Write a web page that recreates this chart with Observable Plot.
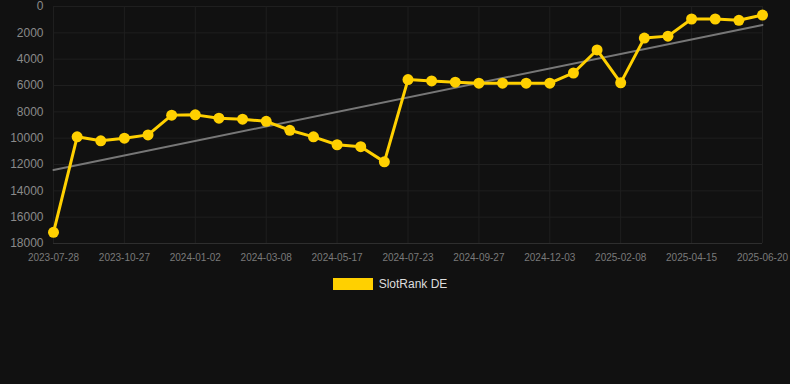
<!DOCTYPE html>
<html>
<head>
<meta charset="utf-8">
<script src="https://cdn.jsdelivr.net/npm/d3@7"></script>
<script src="https://cdn.jsdelivr.net/npm/@observablehq/plot@0.6"></script>
<style>
  html, body { margin: 0; padding: 0; background: #111111; }
  body { width: 790px; height: 384px; overflow: hidden; font-family: "Liberation Sans", Arial, sans-serif; }
  #legend { display: flex; justify-content: center; align-items: center; gap: 6px; margin-top: 7px; margin-left: -10px; color: #dddddd; font-size: 12px; }
  #legend .sw { width: 40px; height: 12px; background: #FFD000; }
</style>
</head>
<body>
<div id="chart"></div>
<div id="legend"><span class="sw"></span><span>SlotRank DE</span></div>
<script>
const dates = [
  "2023-07-28","2023-08-28","2023-09-27","2023-10-27","2023-11-19","2023-12-11",
  "2024-01-02","2024-01-24","2024-02-15","2024-03-08","2024-03-31","2024-04-24",
  "2024-05-17","2024-06-08","2024-07-01","2024-07-23","2024-08-14","2024-09-05",
  "2024-09-27","2024-10-19","2024-11-11","2024-12-03","2024-12-25","2025-01-17",
  "2025-02-08","2025-03-02","2025-03-24","2025-04-15","2025-05-07","2025-05-29",
  "2025-06-20"
];
const ranks = [
  17150, 9900, 10200, 10000, 9750, 8250,
  8230, 8480, 8560, 8720, 9400, 9900,
  10500, 10650, 11800, 5550, 5650, 5750,
  5820, 5820, 5820, 5820, 5050, 3300,
  5800, 2400, 2250, 950, 950, 1050,
  650
];
const tickLabels = ["2023-07-28","2023-10-27","2024-01-02","2024-03-08","2024-05-17","2024-07-23","2024-09-27","2024-12-03","2025-02-08","2025-04-15","2025-06-20"];
const yTicks = [0, 2000, 4000, 6000, 8000, 10000, 12000, 14000, 16000, 18000];

const data = dates.map((d, i) => ({i, date: d, rank: ranks[i]}));
const xTicks = tickLabels.map(t => dates.indexOf(t));

// least-squares trend over index
const n = ranks.length;
const mx = d3.mean(d3.range(n));
const my = d3.mean(ranks);
const slope = d3.sum(d3.range(n), i => (i - mx) * (ranks[i] - my)) / d3.sum(d3.range(n), i => (i - mx) ** 2);
const icpt = my - slope * mx;
const trend = [
  {i: 0, rank: icpt},
  {i: n - 1, rank: icpt + slope * (n - 1)}
];

const chart = Plot.plot({
  width: 790,
  height: 270,
  marginTop: 6,
  marginBottom: 27,
  marginLeft: 53,
  marginRight: 28,
  style: {background: "#111111", fontFamily: "Liberation Sans, Arial, sans-serif"},
  x: {type: "linear", domain: [0, n - 1]},
  y: {domain: [0, 18000], reverse: true},
  marks: [
    Plot.gridY(yTicks.slice(0, -1), {stroke: "#1f1f1f", strokeOpacity: 1}),
    Plot.gridY(yTicks.slice(-1), {stroke: "#2e2e2e", strokeOpacity: 1}),
    Plot.gridX(xTicks, {stroke: "#1f1f1f", strokeOpacity: 1}),
    Plot.axisY(yTicks, {tickSize: 0, tickPadding: 10, fontSize: 12, fill: "#8a8a8a", label: null, tickFormat: d => String(d)}),
    Plot.axisX(xTicks, {tickSize: 0, tickPadding: 10, fontSize: 10, fill: "#7a7a7a", label: null, tickFormat: i => dates[i]}),
    Plot.line(trend, {x: "i", y: "rank", stroke: "#777777", strokeWidth: 2}),
    Plot.line(data, {x: "i", y: "rank", stroke: "#FFD000", strokeWidth: 3}),
    Plot.dot(data, {x: "i", y: "rank", r: 5.5, fill: "#FFD000"})
  ]
});
document.getElementById("chart").appendChild(chart);
</script>
</body>
</html>
